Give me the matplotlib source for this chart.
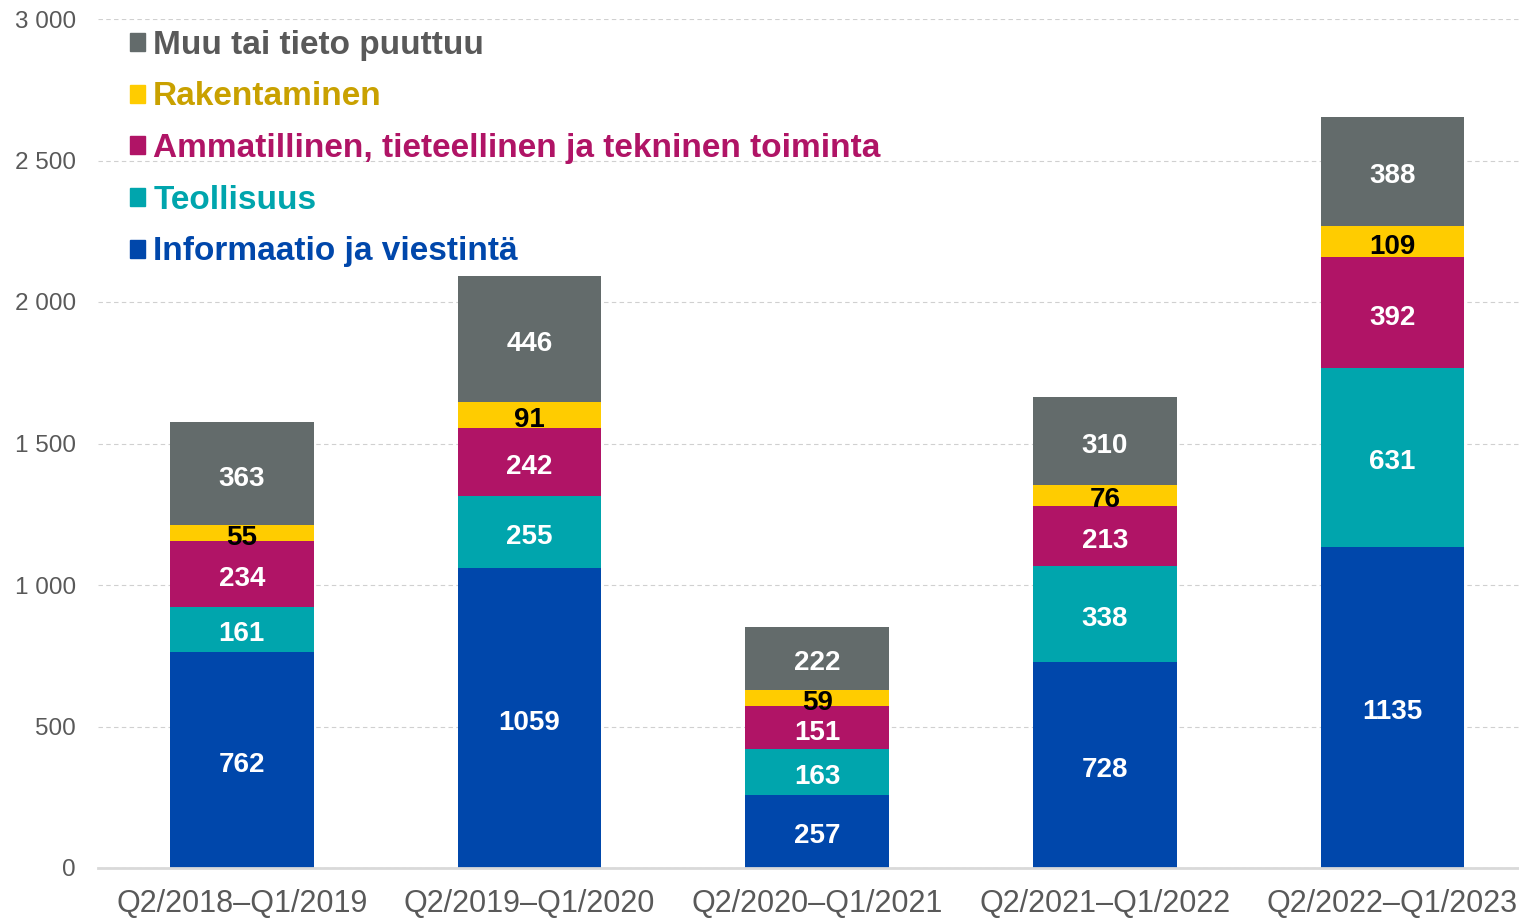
import numpy as np
import matplotlib.pyplot as plt
from matplotlib.patches import Patch

plt.rcParams['font.family'] = ['Liberation Sans', 'DejaVu Sans']

periods = ['Q2/2018–Q1/2019', 'Q2/2019–Q1/2020', 'Q2/2020–Q1/2021',
           'Q2/2021–Q1/2022', 'Q2/2022–Q1/2023']
informaatio = [762, 1059, 257, 728, 1135]
teollisuus = [161, 255, 163, 338, 631]
ammatillinen = [234, 242, 151, 213, 392]
rakentaminen = [55, 91, 59, 76, 109]
muu = [363, 446, 222, 310, 388]

series = [
    ('Informaatio ja viestintä', informaatio, '#0047AB', '#0047AB', 'white'),
    ('Teollisuus', teollisuus, '#00A5AD', '#00A5AD', 'white'),
    ('Ammatillinen, tieteellinen ja tekninen toiminta', ammatillinen, '#B01466', '#B01466', 'white'),
    ('Rakentaminen', rakentaminen, '#FFCC00', '#C9A100', 'black'),
    ('Muu tai tieto puuttuu', muu, '#636B6B', '#595959', 'white'),
]

fig = plt.figure(figsize=(15.19, 9.19), dpi=100)
ax = fig.add_axes([98 / 1519, (919 - 868) / 919, 1 - 98 / 1519, (868 - 19) / 919])

x = np.arange(len(periods))
bottom = np.zeros(len(periods))
handles = []
for name, vals, col, tcol, lcol in series:
    vals = np.array(vals, dtype=float)
    bars = ax.bar(x, vals, 0.5, bottom=bottom, color=col, zorder=3)
    anns = ax.bar_label(bars, labels=[str(int(v)) for v in vals], label_type='center',
                        color=lcol, fontsize=20, fontweight='bold')
    for a in anns:
        a.xyann = (0, -3.5)
    bottom += vals
    handles.append((Patch(color=col), name, tcol))

handles = handles[::-1]
leg = ax.legend([h[0] for h in handles], [h[1] for h in handles],
                loc='upper left', bbox_to_anchor=(0.013, 1.003), frameon=False,
                prop={'size': 24, 'weight': 'bold'}, handlelength=0.45, handleheight=0.45,
                handletextpad=0.25, labelspacing=0.62, borderaxespad=0)
for t, h in zip(leg.get_texts(), handles):
    t.set_color(h[2])

ax.set_xlim(-0.5, 4.44)
ax.set_ylim(0, 3000)
ax.set_yticks(range(0, 3001, 500))
ax.set_yticklabels(['0' if v == 0 else f'{v:,}'.replace(',', ' ') for v in range(0, 3001, 500)])
ax.set_xticks(x)
ax.set_xticklabels(periods)
ax.tick_params(axis='y', length=0, labelsize=17.5, labelcolor='#595959', pad=16)
ax.tick_params(axis='x', length=0, labelsize=22, labelcolor='#595959', pad=15)
ax.grid(axis='y', color='#D0D0D0', linestyle=(0, (4, 3)), linewidth=0.8, zorder=0)
for s in ['top', 'right', 'left']:
    ax.spines[s].set_visible(False)
ax.spines['bottom'].set_color('#D9D9D9')
ax.spines['bottom'].set_linewidth(2)
ax.spines['bottom'].set_zorder(4)

fig.savefig('out.png', dpi=100)
